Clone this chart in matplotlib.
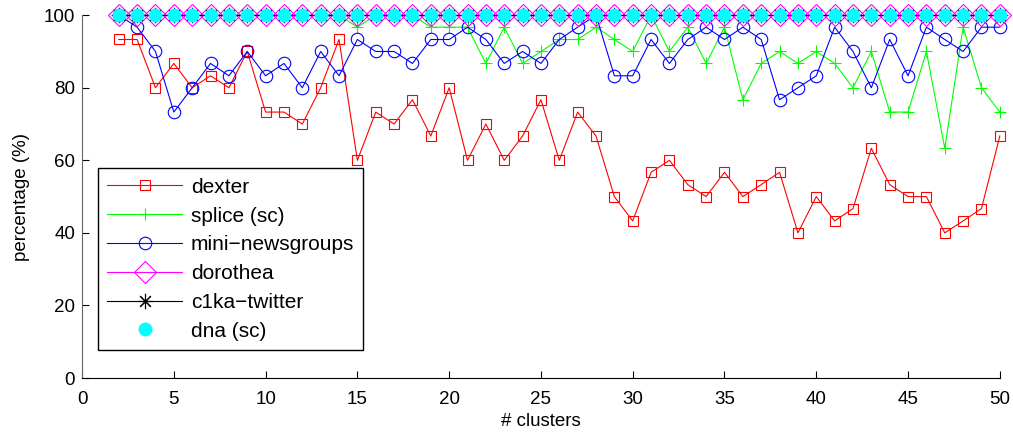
import matplotlib
matplotlib.use('Agg')
import matplotlib.pyplot as plt
import numpy as np

plt.rcParams['font.family'] = ['Liberation Sans', 'DejaVu Sans']

clusters = list(range(2, 51))

dexter = [93.3, 93.3, 80, 86.7, 80, 83.3, 80, 90, 73.3, 73.3, 70, 80, 93.3,
          60, 73.3, 70, 76.7, 66.7, 80, 60, 70, 60, 66.7, 76.7, 60, 73.3, 66.7,
          50, 43.3, 56.7, 60, 53.3, 50, 56.7, 50, 53.3, 56.7, 40, 50, 43.3,
          46.7, 63.3, 53.3, 50, 50, 40, 43.3, 46.7, 66.7]
splice = [100, 100, 100, 100, 100, 100, 100, 100, 100, 100, 100, 100, 100,
          96.7, 100, 100, 100, 96.7, 96.7, 96.7, 86.7, 96.7, 86.7, 90, 93.3,
          93.3, 96.7, 93.3, 90, 100, 90, 96.7, 86.7, 96.7, 76.7, 86.7, 90,
          86.7, 90, 86.7, 80, 90, 73.3, 73.3, 90, 63.3, 96.7, 80, 73.3]
newsgroups = [100, 96.7, 90, 73.3, 80, 86.7, 83.3, 90, 83.3, 86.7, 80, 90,
              83.3, 93.3, 90, 90, 86.7, 93.3, 93.3, 96.7, 93.3, 86.7, 90, 86.7,
              93.3, 96.7, 100, 83.3, 83.3, 93.3, 86.7, 93.3, 96.7, 93.3, 96.7,
              93.3, 76.7, 80, 83.3, 96.7, 90, 80, 93.3, 83.3, 96.7, 93.3, 90,
              96.7, 96.7]
dorothea = [100] * 49
c1ka = [100] * 49
dna = [100] * 49

fig = plt.figure(figsize=(10.13, 4.34), dpi=100)
ax = fig.add_axes([0.081, 0.129, 0.906, 0.836])

lw = 0.8
ax.plot(clusters, dexter, color='red', lw=lw, marker='s', ms=7.7,
        mfc='none', mew=0.8, label='dexter', clip_on=False)
ax.plot(clusters, splice, color=(0, 1, 0), lw=lw, marker='+', ms=8,
        mew=0.8, label='splice (sc)', clip_on=False)
ax.plot(clusters, newsgroups, color='blue', lw=lw, marker='o', ms=9,
        mfc='none', mew=0.8, label='mini\u2212newsgroups', clip_on=False)
ax.plot(clusters, dorothea, color='magenta', lw=lw, marker='D', ms=11,
        mfc='none', mew=0.8, label='dorothea', clip_on=False)
ax.plot(clusters, c1ka, color='black', lw=lw, marker=(8, 2, 0), ms=11,
        mew=0.8, label='c1ka\u2212twitter', clip_on=False)
ax.plot(clusters, dna, color='cyan', lw=0, marker='o', ms=9,
        mec='cyan', label='dna (sc)', clip_on=False)

ax.set_xlim(0, 50)
ax.set_ylim(0, 100)
ax.set_xticks(np.arange(0, 51, 5))
ax.set_yticks(np.arange(0, 101, 20))
ax.tick_params(direction='in', length=5, labelsize=13.5)
ax.tick_params(axis='x', pad=9)
ax.tick_params(axis='y', pad=5)
ax.spines['top'].set_visible(False)
ax.spines['right'].set_visible(False)
ax.spines['left'].set_color('#666666')
ax.set_xlabel('# clusters', fontsize=13.5, labelpad=4)
ax.set_ylabel('percentage (%)', fontsize=13.5, labelpad=10)

leg = ax.legend(loc='lower left', bbox_to_anchor=(0.0174, 0.077),
                borderaxespad=0, fontsize=15, handlelength=3.6,
                handletextpad=0.4, labelspacing=0.47, fancybox=False,
                framealpha=1, edgecolor='black', borderpad=0.45)
leg.get_frame().set_linewidth(1.0)

fig.savefig('out.png', dpi=100)
